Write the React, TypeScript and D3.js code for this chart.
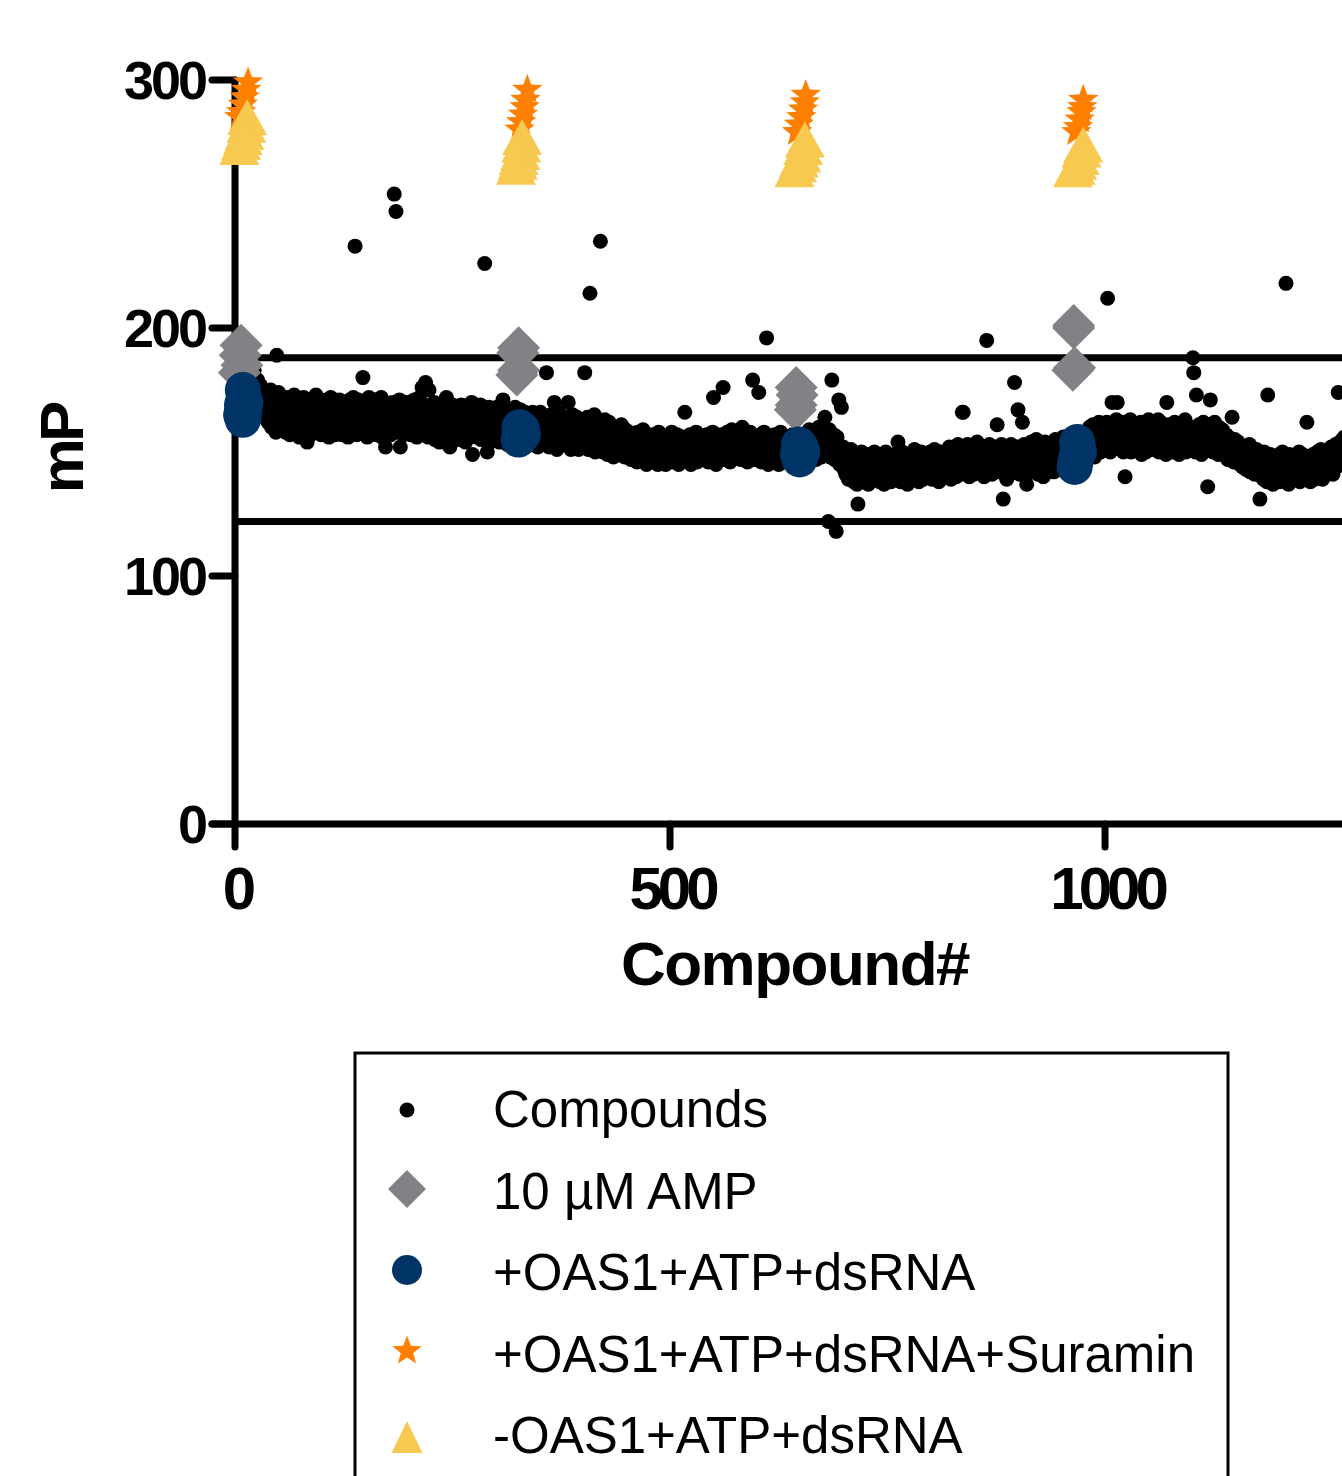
import React, { useEffect, useRef } from 'react';
import * as d3 from 'd3';

// number of the first compound on the x axis
const firstCompound = 17;

// mP read for each compound, in compound order (one row = 20 compounds)
const compoundMP = [
  181,172,178,168,176,183,170,175,166,179,173,169,177,171,165,175,168,172,164,170,
  173,162,170,165,175,160,168,172,163,171,158,189,167,174,161,166,170,159,169,164,
  170,158,167,172,161,165,157,171,163,168,160,173,164,159,169,162,170,156,166,163,
  169,160,172,158,166,163,154,170,161,167,157,171,165,159,168,162,173,158,166,161,
  160,168,157,165,170,162,166,158,171,163,169,156,164,172,159,167,161,170,157,165,
  168,158,165,171,160,166,157,169,163,159,170,161,167,156,164,171,158,166,162,172,
  160,233,168,157,165,171,162,158,169,163,180,159,167,161,170,156,165,172,160,166,
  170,158,165,161,171,157,166,163,169,159,164,172,156,167,160,170,152,165,159,168,
  161,169,157,166,170,159,254,164,247,158,167,162,171,152,165,160,168,157,170,163,
  166,158,170,161,165,157,169,163,159,171,160,166,156,168,162,172,158,164,176,161,
  158,167,178,160,164,156,175,162,169,157,165,161,170,155,163,168,159,166,154,164,
  167,158,163,170,156,165,172,160,168,155,152,164,159,169,157,166,161,155,168,160,
  157,166,160,169,155,163,158,167,154,164,161,168,156,165,159,170,149,162,157,166,
  164,156,167,159,162,169,155,165,158,163,226,157,166,150,161,168,154,163,159,167,
  158,165,155,163,168,157,162,154,166,160,164,171,156,163,159,167,153,162,165,157,
  163,155,166,158,161,168,154,162,157,165,159,167,153,161,164,156,166,158,163,155,
  156,164,158,161,153,166,157,163,155,160,165,152,162,158,166,154,160,163,156,161,
  161,182,155,163,152,159,165,156,162,154,170,157,164,151,160,166,153,159,163,155,
  160,153,163,156,158,164,170,155,161,151,159,165,154,152,162,157,164,153,151,160,
  154,161,157,163,152,182,159,155,164,151,160,214,156,162,153,158,165,150,159,155,
  158,152,161,235,154,160,150,157,163,153,159,149,156,162,151,158,154,160,148,157,
  151,158,153,160,149,156,152,161,150,157,154,148,159,152,156,150,158,153,147,155,
  155,148,157,151,154,146,158,150,153,156,147,152,159,149,155,151,145,157,150,153,
  148,155,150,157,146,153,149,156,152,145,158,150,147,154,151,156,148,153,145,152,
  154,147,156,149,152,158,146,153,150,155,148,157,151,145,154,149,156,147,153,150,
  166,149,155,147,153,150,157,145,152,156,148,154,150,158,146,152,149,155,147,153,
  150,156,147,153,149,157,151,146,154,148,155,150,158,172,147,153,145,156,151,149,
  154,148,157,150,176,153,147,156,151,158,149,155,146,153,159,150,154,148,157,152,
  149,156,151,158,147,154,160,150,155,148,157,152,146,156,150,158,153,147,179,155,
  152,147,156,150,154,174,149,157,146,153,151,158,148,155,196,150,145,154,149,156,
  148,155,150,157,146,153,149,156,145,152,158,147,154,150,156,146,153,149,155,151,
  154,147,155,149,157,151,146,153,150,156,148,154,147,155,149,152,157,148,153,150,
  150,157,152,159,148,155,151,158,149,156,153,147,157,151,160,150,154,148,158,152,
  158,164,150,156,152,122,159,148,155,179,151,157,147,153,118,156,149,171,145,152,
  168,147,152,143,149,141,150,145,139,148,143,151,140,146,138,147,142,149,137,129,
  147,139,145,150,141,146,138,148,143,140,149,137,145,142,148,139,146,141,150,143,
  140,148,142,146,138,149,143,141,147,137,145,150,139,144,148,141,146,138,143,147,
  146,139,149,142,145,154,140,147,138,144,150,141,146,139,148,143,137,145,149,142,
  142,148,140,146,151,139,145,149,143,138,147,141,150,144,139,148,142,146,140,149,
  147,141,150,143,139,148,144,151,140,146,142,149,138,145,150,143,147,141,148,144,
  143,150,141,147,152,144,139,148,145,151,142,149,140,146,153,143,148,141,150,166,
  166,144,151,142,148,153,145,140,149,143,152,146,141,150,144,148,154,142,147,145,
  149,143,152,145,140,150,146,195,142,148,153,144,150,141,147,152,145,149,143,161,
  144,151,142,148,153,146,131,150,143,147,139,152,145,149,141,153,147,143,150,178,
  150,144,152,167,146,141,151,148,162,143,153,145,149,137,152,146,150,142,154,147,
  145,152,143,150,155,146,141,149,153,144,151,147,140,150,154,145,148,143,152,146,
  151,145,153,148,142,150,155,146,152,149,143,154,147,151,145,156,149,144,152,148,
  147,154,149,152,145,156,150,153,148,157,146,151,155,149,153,147,158,151,148,154,
  151,158,153,156,149,160,152,157,150,161,155,148,159,153,157,151,162,155,150,158,
  156,151,160,153,158,162,212,154,159,150,157,170,155,161,152,158,163,170,154,159,
  153,160,155,162,150,158,140,156,161,152,159,154,163,150,157,160,153,158,151,161,
  157,151,160,154,162,149,158,153,161,156,150,159,154,163,152,157,160,151,158,155,
  152,159,154,161,163,150,157,162,153,158,151,160,155,149,170,156,161,152,159,154,
  158,150,156,162,152,159,154,161,149,157,153,160,151,158,155,163,150,156,152,159,
  153,160,151,157,188,182,155,150,173,158,152,161,154,159,149,157,162,151,156,153,
  158,136,156,161,171,153,159,150,157,162,152,158,155,149,160,154,157,151,159,153,
  155,149,157,152,147,156,150,154,148,164,153,146,155,150,152,147,154,149,145,152,
  150,144,152,146,149,143,151,145,148,153,142,147,150,144,149,141,146,151,143,148,
  145,131,148,141,146,139,150,143,147,138,173,145,140,149,142,146,137,148,143,140,
  147,140,145,149,138,146,142,150,139,144,148,218,141,146,137,149,143,140,147,142,
  139,147,142,148,140,145,150,138,146,143,149,141,147,139,144,162,148,141,146,138,
  146,141,149,143,139,148,144,150,140,147,142,151,145,139,148,143,150,141,147,144,
  143,150,145,152,147,141,151,146,153,144,149,174,148,154,146,151,155,149,156,152,
];

// control wells on each plate: compound position and mP
const ampWells = [7, 6, 8, 5, 326, 325, 326, 324, 645, 646, 645, 644, 964, 964, 965, 963];
const ampMP = [193, 189, 185, 182, 192, 190, 183, 181, 176, 173, 169, 167, 201, 200, 184, 183];

const oasWells = [9, 10, 8, 11, 7, 9, 10, 12, 327, 329, 331, 328, 326, 330, 648, 650, 652, 647, 649, 651, 968, 969, 970, 967, 966, 965];
const oasMP = [175, 172, 169, 167, 165, 163, 164, 170, 160, 158, 157, 156, 155, 159, 153, 152, 150, 149, 147, 151, 154, 152, 150, 148, 146, 144];

const suraminWells = [15, 13, 11, 9, 7, 5, 336, 334, 333, 331, 329, 327, 656, 655, 653, 651, 648, 646, 975, 974, 973, 971, 969, 967];
const suraminMP = [299, 296, 293, 290, 287, 285, 296, 292, 289, 286, 283, 280, 294, 291, 288, 285, 282, 279, 292, 289, 287, 284, 281, 279];

const noOasWells = [14, 13, 11, 9, 7, 5, 330, 329, 328, 326, 325, 323, 655, 653, 651, 648, 646, 643, 975, 973, 971, 968, 966, 963];
const noOasMP = [285, 282, 279, 277, 275, 273, 277, 274, 271, 269, 267, 265, 276, 273, 270, 268, 266, 264, 274, 272, 269, 267, 265, 264];

// hit cut-offs
const cutoffs = [188, 122];

const xTicks = [0, 500, 1000];
const yTicks = [0, 100, 200, 300];

const legendLabels = [
  'Compounds',
  '10 \u00b5M AMP',
  '+OAS1+ATP+dsRNA',
  '+OAS1+ATP+dsRNA+Suramin',
  '-OAS1+ATP+dsRNA',
];

const GREY = '#808285';
const NAVY = '#003366';
const ORANGE = '#ff8000';
const YELLOW = '#f7c951';
const FONT = '"Liberation Sans", Arial, sans-serif';

const diamondPath = (r: number) => `M0,${-r}L${r},0L0,${r}L${-r},0Z`;
const trianglePath = (w: number, h: number) => `M0,${-h / 2}L${w / 2},${h / 2}L${-w / 2},${h / 2}Z`;
const starPath = (R: number) => {
  const pts: string[] = [];
  for (let k = 0; k < 10; k++) {
    const rad = k % 2 === 0 ? R : R * 0.42;
    const a = -Math.PI / 2 + (k * Math.PI) / 5;
    pts.push(`${(rad * Math.cos(a)).toFixed(2)},${(rad * Math.sin(a)).toFixed(2)}`);
  }
  return `M${pts.join('L')}Z`;
};

const App = () => {
  const svgRef = useRef<SVGSVGElement | null>(null);

  useEffect(() => {
    const svg = d3.select(svgRef.current);
    svg.selectAll('*').remove();

    const x = d3.scaleLinear().domain([0, 1288]).range([235, 1355.6]);
    const y = d3.scaleLinear().domain([0, 300]).range([824, 80]);
    const tickLen = 23;

    // cut-off lines
    svg.selectAll('line.cut')
      .data(cutoffs)
      .enter()
      .append('line')
      .attr('x1', x(0))
      .attr('x2', x(1288))
      .attr('y1', d => y(d))
      .attr('y2', d => y(d))
      .attr('stroke', '#000')
      .attr('stroke-width', 7);

    // axes
    const axes = svg.append('g').attr('stroke', '#000').attr('stroke-width', 7).attr('stroke-linecap', 'round');
    axes.append('line').attr('x1', x(0)).attr('x2', x(0)).attr('y1', y(300)).attr('y2', y(0));
    axes.append('line').attr('x1', x(0) - tickLen).attr('x2', x(1288) + 10).attr('y1', y(0)).attr('y2', y(0));
    axes.selectAll('line.yt')
      .data(yTicks)
      .enter()
      .append('line')
      .attr('x1', x(0) - tickLen)
      .attr('x2', x(0))
      .attr('y1', d => y(d))
      .attr('y2', d => y(d));
    axes.selectAll('line.xt')
      .data(xTicks)
      .enter()
      .append('line')
      .attr('x1', d => x(d))
      .attr('x2', d => x(d))
      .attr('y1', y(0))
      .attr('y2', y(0) + tickLen);

    svg.selectAll('text.yl')
      .data(yTicks)
      .enter()
      .append('text')
      .attr('x', 205)
      .attr('y', d => y(d) + 19)
      .attr('text-anchor', 'end')
      .attr('font-family', FONT)
      .attr('font-weight', 'bold')
      .attr('font-size', 54)
      .attr('letter-spacing', -3)
      .text(d => d);

    svg.selectAll('text.xl')
      .data(xTicks)
      .enter()
      .append('text')
      .attr('x', d => x(d) + 2)
      .attr('y', 909)
      .attr('text-anchor', 'middle')
      .attr('font-family', FONT)
      .attr('font-weight', 'bold')
      .attr('font-size', 60)
      .attr('letter-spacing', -5)
      .text(d => d);

    svg.append('text')
      .attr('x', 795)
      .attr('y', 985)
      .attr('text-anchor', 'middle')
      .attr('font-family', FONT)
      .attr('font-weight', 'bold')
      .attr('font-size', 62)
      .attr('letter-spacing', -1.5)
      .text('Compound#');

    svg.append('text')
      .attr('transform', 'translate(83,449) rotate(-90)')
      .attr('text-anchor', 'middle')
      .attr('font-family', FONT)
      .attr('font-weight', 'bold')
      .attr('font-size', 62)
      .attr('letter-spacing', -4)
      .text('mP');

    // compounds
    svg.append('g')
      .selectAll('circle')
      .data(compoundMP)
      .enter()
      .append('circle')
      .attr('cx', (d, i) => x(firstCompound + i))
      .attr('cy', d => y(d))
      .attr('r', 7.5)
      .attr('fill', '#000');

    // controls
    svg.append('g')
      .selectAll('path')
      .data(ampMP)
      .enter()
      .append('path')
      .attr('d', diamondPath(21.5))
      .attr('transform', (d, i) => `translate(${x(ampWells[i])},${y(d)})`)
      .attr('fill', GREY);

    svg.append('g')
      .selectAll('circle')
      .data(oasMP)
      .enter()
      .append('circle')
      .attr('cx', (d, i) => x(oasWells[i]))
      .attr('cy', d => y(d))
      .attr('r', 18)
      .attr('fill', NAVY);

    svg.append('g')
      .selectAll('path')
      .data(suraminMP)
      .enter()
      .append('path')
      .attr('d', starPath(16))
      .attr('transform', (d, i) => `translate(${x(suraminWells[i])},${y(d)})`)
      .attr('fill', ORANGE);

    svg.append('g')
      .selectAll('path')
      .data(noOasMP)
      .enter()
      .append('path')
      .attr('d', trianglePath(40, 36))
      .attr('transform', (d, i) => `translate(${x(noOasWells[i])},${y(d)})`)
      .attr('fill', YELLOW);

    // legend
    const legend = svg.append('g');
    legend.append('rect')
      .attr('x', 355)
      .attr('y', 1053)
      .attr('width', 873)
      .attr('height', 500)
      .attr('fill', 'none')
      .attr('stroke', '#000')
      .attr('stroke-width', 3);

    const symY = [1110, 1189, 1270, 1350, 1437];
    const symX = 407;
    legend.append('circle').attr('cx', symX).attr('cy', symY[0]).attr('r', 7.5).attr('fill', '#000');
    legend.append('path').attr('d', diamondPath(19)).attr('transform', `translate(${symX},${symY[1]})`).attr('fill', GREY);
    legend.append('circle').attr('cx', symX).attr('cy', symY[2]).attr('r', 15).attr('fill', NAVY);
    legend.append('path').attr('d', starPath(15.5)).attr('transform', `translate(${symX},${symY[3] + 1})`).attr('fill', ORANGE);
    legend.append('path').attr('d', trianglePath(31, 32)).attr('transform', `translate(${symX},${symY[4]})`).attr('fill', YELLOW);

    legend.selectAll('text')
      .data(legendLabels)
      .enter()
      .append('text')
      .attr('x', 493)
      .attr('y', (d, i) => 1127 + i * 81.5)
      .attr('font-family', FONT)
      .attr('font-size', 51)
      .attr('fill', '#000')
      .text(d => d);
  }, []);

  return (
    <svg
      ref={svgRef}
      width={1342}
      height={1476}
      style={{ position: 'absolute', left: 0, top: 0, background: '#fff' }}
    ></svg>
  );
};

export default App;
